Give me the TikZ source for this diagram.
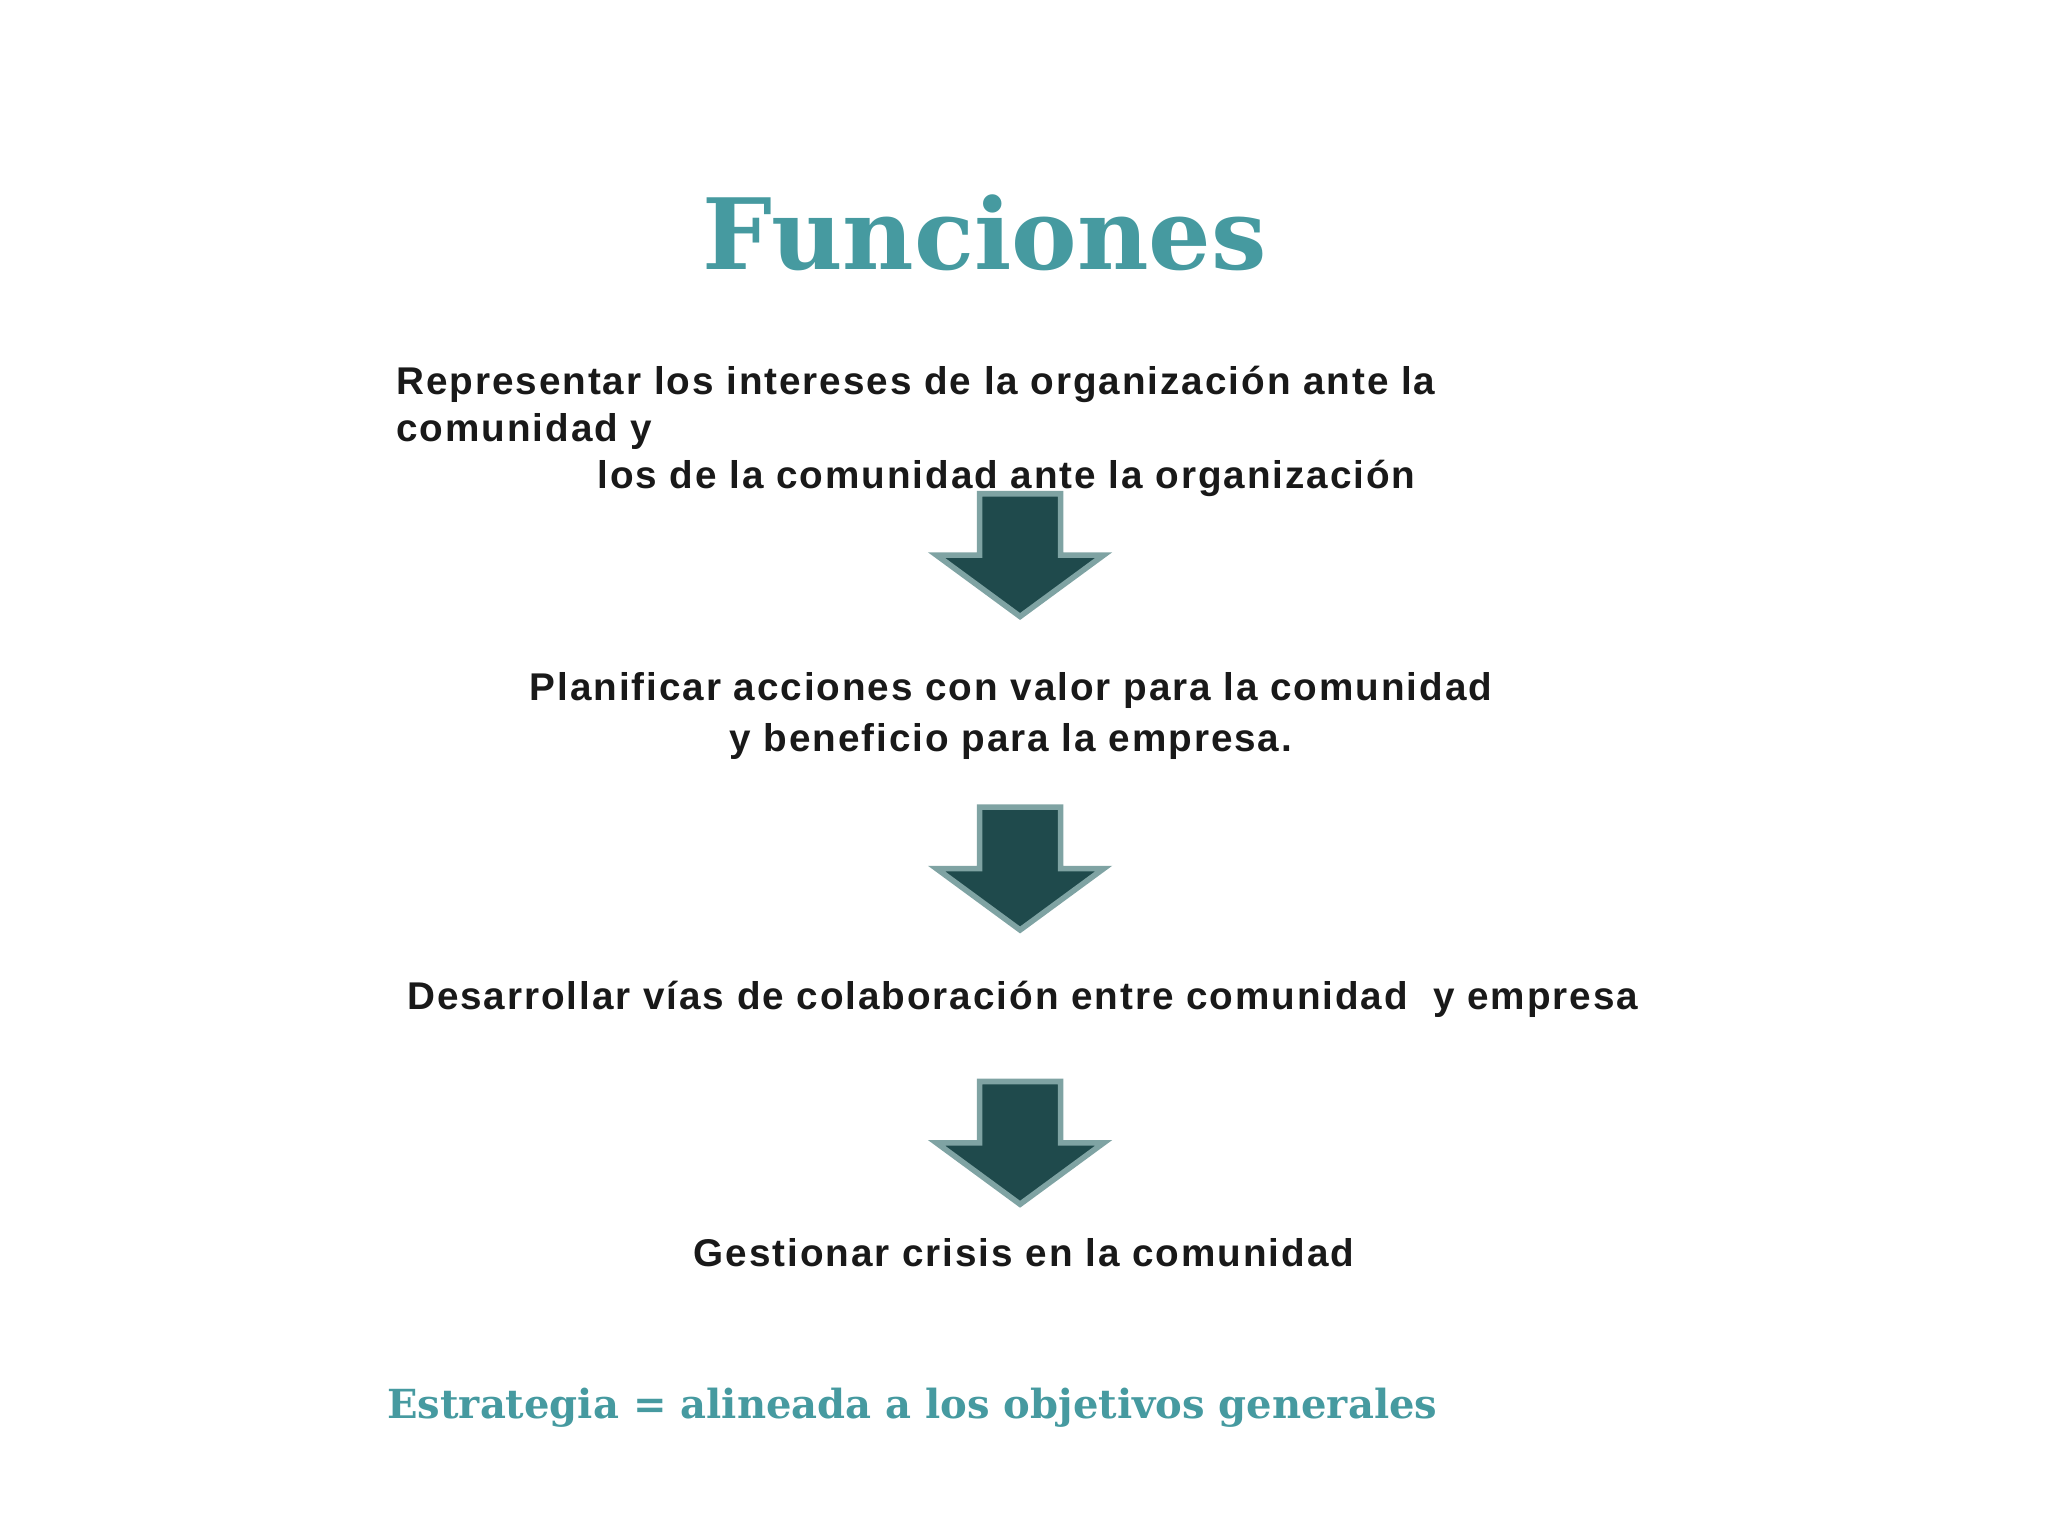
\documentclass[tikz,border=0pt]{standalone}
\usepackage{fontspec}
\setmainfont{Liberation Sans}
\newfontfamily\titlefont{DejaVu Serif}
\newfontfamily\bodyfont[LetterSpace=5]{Liberation Sans}
\definecolor{teal1}{RGB}{70,154,160}
\definecolor{arrfill}{RGB}{31,74,76}
\definecolor{arredge}{RGB}{127,163,163}
\tikzset{
  body/.style={font=\bodyfont\bfseries\fontsize{11pt}{13.4pt}\selectfont, text=black!90, inner sep=0pt},
  downarrow/.style={fill=arrfill, draw=arredge, line width=1.6pt, line join=miter}
}
\newcommand{\downarr}[3]{% x, top y, name
  \draw[downarrow] (#1-31,#2) -- (#1+31,#2) -- (#1+31,#2+47) -- (#1+64,#2+47) -- (#1,#2+94) -- (#1-64,#2+47) -- (#1-31,#2+47) -- cycle;
  \coordinate (#3) at (#1,#2+47);
}
\begin{document}
\begin{tikzpicture}[x=0.013061cm,y=-0.013061cm]
\useasboundingbox (0,0) rectangle (1568,1176);
\node[text=teal1, font=\titlefont\bfseries\fontsize{28pt}{32pt}\selectfont, inner sep=0pt] (title) at (754,178) {Funciones};
\node[body, anchor=north west] (t1a) at (303,280) {Representar los intereses de la organización ante la};
\node[body, anchor=north west] (t1b) at (303,316) {comunidad y};
\node[body, anchor=north west] (t1c) at (457,352) {los de la comunidad ante la organización};
\downarr{781}{378}{a1}
\node[body, align=center] (t2) at (774,548) {Planificar acciones con valor para la comunidad\\[1pt] y beneficio para la empresa.};
\downarr{781}{618}{a2}
\node[body] (t3) at (783,765) {Desarrollar vías de colaboración entre comunidad\ \ y empresa};
\downarr{781}{828}{a3}
\node[body] (t4) at (784,959) {Gestionar crisis en la comunidad};
\node[text=teal1, font=\titlefont\bfseries\fontsize{11.4pt}{14pt}\selectfont, inner sep=0pt, anchor=west] (s) at (296,1078) {Estrategia = alineada a los objetivos generales};
\end{tikzpicture}
\end{document}
